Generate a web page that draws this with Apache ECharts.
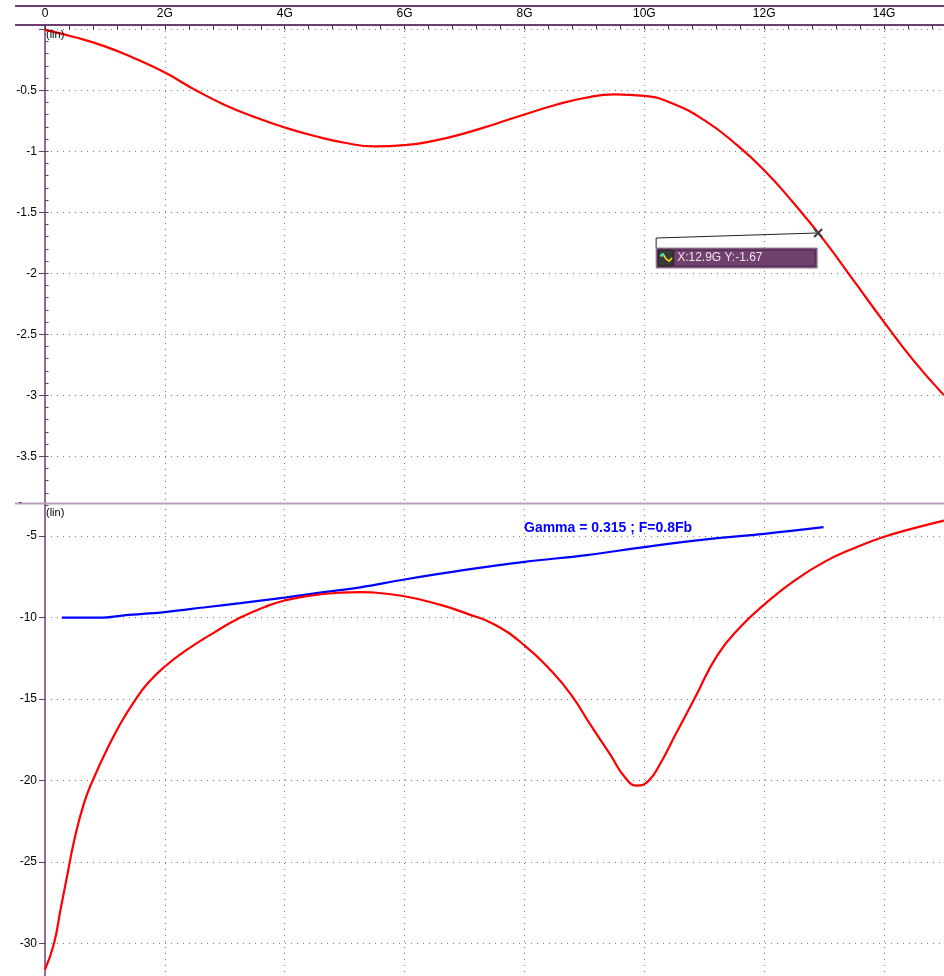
<!DOCTYPE html>
<html><head><meta charset="utf-8">
<script src="https://cdn.jsdelivr.net/npm/echarts@6/dist/echarts.min.js"></script>
<style>html,body{margin:0;padding:0;background:#fff;overflow:hidden}#c{width:944px;height:976px}</style>
</head><body><div id="c"></div>
<script>
// ---- data (frequency in G, value lin) ----
const topFreq = [0, 0.5, 1.0, 1.5, 2.0, 2.5, 3.0, 3.5, 4.0, 4.5, 5.0, 5.5, 6.0, 6.5, 7.0, 7.5, 8.0, 8.5, 9.0, 9.5, 10.0, 10.5, 11.0, 11.5, 12.0, 12.5, 13.0, 13.5, 14.0, 14.5, 15.0];
const topVal  = [-0.005, -0.065, -0.14, -0.24, -0.355, -0.495, -0.62, -0.72, -0.805, -0.875, -0.93, -0.96, -0.95, -0.913, -0.853, -0.778, -0.698, -0.623, -0.563, -0.533, -0.546, -0.615, -0.745, -0.93, -1.155, -1.43, -1.73, -2.065, -2.40, -2.72, -3.0];

const redFreq = [0.0, 0.15, 0.26, 0.37, 0.48, 0.65, 0.82, 1.04, 1.26, 1.48, 1.71, 2.0, 2.37, 2.82, 3.26, 3.71, 4.0, 4.37, 4.93, 5.26, 5.44, 6.0, 6.6, 7.05, 7.5, 8.0, 8.46, 8.78, 9.1, 9.43, 9.68, 9.88, 10.07, 10.26, 10.52, 10.84, 11.22, 11.61, 12.0, 12.51, 13.02, 13.54, 14.0, 14.44, 14.95, 15.0];
const redVal  = [-31.6, -30.0, -27.9, -25.85, -23.8, -21.4, -19.8, -18.05, -16.5, -15.2, -14.05, -13.0, -11.97, -10.92, -10.0, -9.28, -8.95, -8.68, -8.47, -8.43, -8.45, -8.69, -9.22, -9.77, -10.42, -11.7, -13.32, -14.74, -16.57, -18.4, -19.82, -20.32, -20.02, -19.0, -17.18, -14.95, -12.3, -10.55, -9.2, -7.72, -6.55, -5.68, -5.04, -4.57, -4.09, -4.05];

const blueFreq = [0.28, 0.98, 1.32, 2.0, 2.71, 3.26, 4.0, 4.65, 5.26, 6.0, 6.98, 8.0, 9.04, 10.0, 11.03, 12.0, 12.99];
const blueVal  = [-10.0, -10.0, -9.86, -9.66, -9.35, -9.11, -8.77, -8.44, -8.14, -7.66, -7.09, -6.58, -6.16, -5.67, -5.2, -4.86, -4.45];

const cursorPoint = [12.9, -1.67];
const cursorText = 'X:12.9G Y:-1.67';
const blueLabel = 'Gamma = 0.315 ; F=0.8Fb';
const xLabelUnit = 'G';

// ---- styling ----
const PURPLE = '#6b3f6f';
const FONT = '"Liberation Sans", Arial, sans-serif';
const dotted = { show: true, lineStyle: { color: '#7a7a7a', width: 1, type: [1, 5] }, showMinLine: false, showMaxLine: false };
const zip = (a, b) => a.map((v, i) => [v, b[i]]);

const chart = echarts.init(document.getElementById('c'), null, { renderer: 'canvas' });

const option = {
  animation: false,
  backgroundColor: '#fff',
  grid: [
    { left: 45, top: 25, width: 900, height: 480.1 },
    { left: 45, top: 503, width: 900, height: 478 }
  ],
  xAxis: [
    { gridIndex: 0, type: 'value', position: 'top', min: 0, max: 15, interval: 2,
      axisLine: { show: false }, axisTick: { show: false },
      axisLabel: { show: true, color: '#000', fontSize: 12, fontFamily: FONT, margin: 5, showMaxLabel: false,
        formatter: v => v === 0 ? '0' : v + xLabelUnit },
      splitLine: dotted },
    { gridIndex: 0, type: 'value', position: 'top', min: 0, max: 15, interval: 0.4,
      axisLine: { show: false }, axisTick: { show: true, length: 4, lineStyle: { color: '#3a2a3a', width: 1 } },
      axisLabel: { show: false }, splitLine: { show: false } },
    { gridIndex: 1, type: 'value', min: 0, max: 15, interval: 2,
      axisLine: { show: false }, axisTick: { show: false }, axisLabel: { show: false },
      splitLine: dotted }
  ],
  yAxis: [
    { gridIndex: 0, type: 'value', min: -3.9, max: 0.035, splitNumber: 8,
      axisLine: { show: true, lineStyle: { color: PURPLE, width: 1.5 } },
      axisTick: { show: true, length: 6, lineStyle: { color: PURPLE, width: 1 } },
      axisLabel: { color: '#000', fontSize: 12, fontFamily: FONT, margin: 8, showMinLabel: false, showMaxLabel: false,
        formatter: v => v === 0 ? '' : String(v) },
      splitLine: dotted },
    { gridIndex: 0, type: 'value', min: -3.9, max: 0.035, interval: 0.1,
      axisLine: { show: false }, axisTick: { show: true, length: 3.5, lineStyle: { color: PURPLE, width: 1 } },
      axisLabel: { show: false }, splitLine: { show: false } },
    { gridIndex: 1, type: 'value', min: -32, max: -2.965, splitNumber: 6,
      axisLine: { show: true, lineStyle: { color: PURPLE, width: 1.5 } },
      axisTick: { show: true, length: 6, lineStyle: { color: PURPLE, width: 1 } },
      axisLabel: { color: '#000', fontSize: 12, fontFamily: FONT, margin: 8, showMinLabel: false, showMaxLabel: false },
      splitLine: dotted },
    { gridIndex: 1, type: 'value', min: -32, max: -2.965, interval: 1,
      axisLine: { show: false }, axisTick: { show: true, length: 3.5, lineStyle: { color: PURPLE, width: 1 } },
      axisLabel: { show: false }, splitLine: { show: false } }
  ],
  series: [
    { type: 'line', xAxisIndex: 0, yAxisIndex: 0, data: zip(topFreq, topVal), showSymbol: false, smooth: 0.5,
      lineStyle: { color: '#ff0000', width: 2.2 }, z: 5 },
    { type: 'line', xAxisIndex: 2, yAxisIndex: 2, data: zip(blueFreq, blueVal), showSymbol: false, smooth: 0.4,
      lineStyle: { color: '#0000ff', width: 2.2 }, z: 4 },
    { type: 'line', xAxisIndex: 2, yAxisIndex: 2, data: zip(redFreq, redVal), showSymbol: false, smooth: 0.5,
      lineStyle: { color: '#ff0000', width: 2.2 }, z: 5 }
  ],
  graphic: [
    { type: 'line', shape: { x1: 15, y1: 6, x2: 944, y2: 6 }, style: { stroke: PURPLE, lineWidth: 2 }, z: 10 },
    { type: 'line', shape: { x1: 15, y1: 25, x2: 944, y2: 25 }, style: { stroke: PURPLE, lineWidth: 2 }, z: 10 },
    { type: 'line', shape: { x1: 15, y1: 503.5, x2: 944, y2: 503.5 }, style: { stroke: '#bb9bbb', lineWidth: 2 }, z: 10 },
    { type: 'line', shape: { x1: 19, y1: 502.5, x2: 22, y2: 502.5 }, style: { stroke: '#555', lineWidth: 1 }, z: 11 },
    { type: 'text', x: 46, y: 29, style: { text: '(lin)', fill: '#000', font: '11px ' + FONT }, z: 12 },
    { type: 'text', x: 46, y: 507, style: { text: '(lin)', fill: '#000', font: '11px ' + FONT }, z: 12 },
    { type: 'text', x: 524, y: 521, style: { text: blueLabel, fill: '#0000ff', font: 'bold 14px ' + FONT }, z: 12 }
  ]
};
chart.setOption(option);

// cursor readout anchored to the data point via the axis scales
const p = chart.convertToPixel({ gridIndex: 0 }, cursorPoint);
const px = p[0], py = p[1];
const bx = px - 162, by = py + 15;
chart.setOption({
  graphic: option.graphic.concat([
    { type: 'polyline', shape: { points: [[px - 2, py], [bx, py + 5], [bx, by]] }, style: { stroke: '#222', lineWidth: 1, fill: null }, z: 20 },
    { type: 'rect', shape: { x: bx, y: by, width: 161, height: 20 }, style: { fill: '#70406f', stroke: '#9b7b9b', lineWidth: 1 }, z: 20 },
    { type: 'rect', shape: { x: bx + 2, y: by + 2, width: 15, height: 16 }, style: { fill: '#3a3a3a', stroke: '#222', lineWidth: 1 }, z: 21 },
    { type: 'polyline', shape: { points: [[bx + 4, by + 8], [bx + 7, by + 6], [bx + 10, by + 11], [bx + 13, by + 13], [bx + 16, by + 10]] }, style: { stroke: '#ffee00', lineWidth: 1.5, fill: null }, z: 22 },
    { type: 'circle', shape: { cx: bx + 6, cy: by + 7, r: 1.8 }, style: { fill: '#22dddd' }, z: 23 },
    { type: 'rect', shape: { x: bx + 18, y: by + 2, width: 141, height: 16 }, style: { fill: '#70406f', stroke: '#4a2a4a', lineWidth: 1 }, z: 21 },
    { type: 'text', x: bx + 21, y: by + 4, style: { text: cursorText, fill: '#e6e6e6', font: '12px ' + FONT }, z: 24 },
    { type: 'line', shape: { x1: px - 4, y1: py - 4, x2: px + 4, y2: py + 4 }, style: { stroke: '#404040', lineWidth: 2 }, z: 25 },
    { type: 'line', shape: { x1: px - 4, y1: py + 4, x2: px + 4, y2: py - 4 }, style: { stroke: '#404040', lineWidth: 2 }, z: 25 }
  ])
});
</script>
</body></html>
